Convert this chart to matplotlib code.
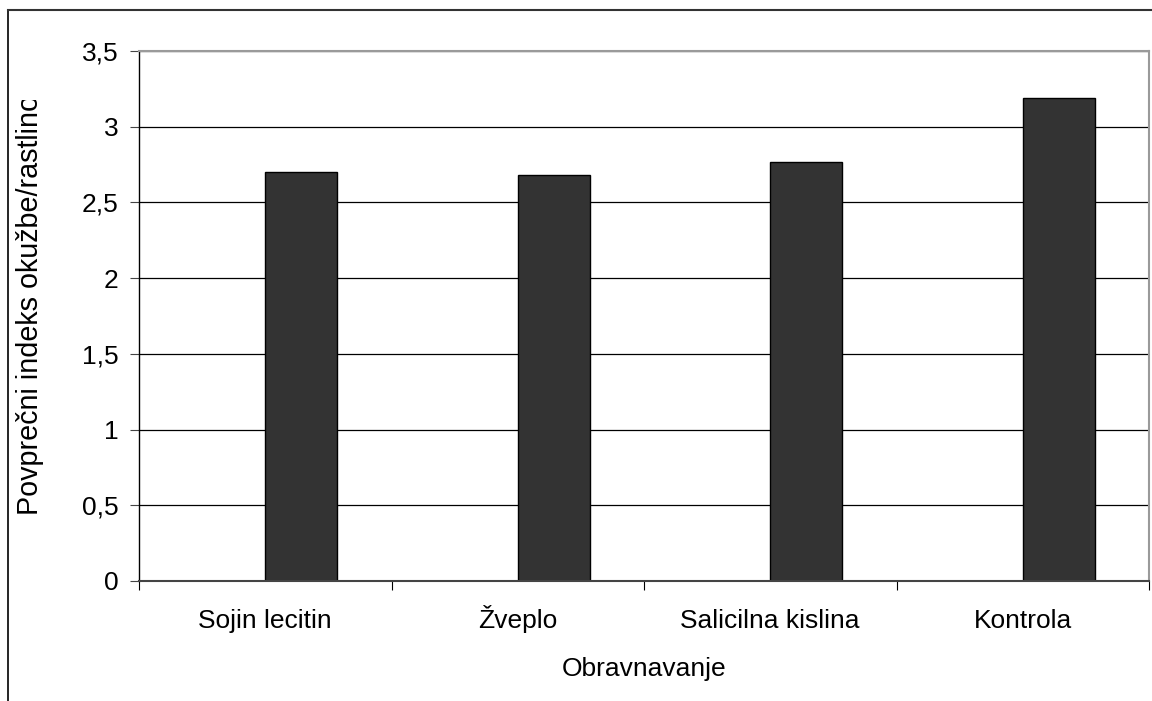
import matplotlib
matplotlib.use("Agg")
import matplotlib.pyplot as plt
from matplotlib.lines import Line2D
from matplotlib.patches import Rectangle

plt.rcParams['font.family'] = ['Liberation Sans', 'DejaVu Sans']

categories = ["Sojin lecitin", "Žveplo", "Salicilna kislina", "Kontrola"]
values = [2.70, 2.68, 2.765, 3.19]
y_ticks = [0, 0.5, 1, 1.5, 2, 2.5, 3, 3.5]
y_tick_labels = ["0", "0,5", "1", "1,5", "2", "2,5", "3", "3,5"]
y_label = "Povprečni indeks okužbe/rastlino"
x_label = "Obravnavanje"

FS = 19

W, H = 1152, 701
fig = plt.figure(figsize=(W / 100, H / 100), dpi=100)
ax = fig.add_axes([139 / W, (H - 581) / H, (1149 - 139) / W, (581 - 51) / H])

x = list(range(len(categories)))
ax.bar(x, values, width=0.285, align='edge', color='#333333',
       edgecolor='black', linewidth=1.0, zorder=3)

ax.set_xlim(-0.5, len(categories) - 0.5)
ax.set_ylim(0, 3.5)

# horizontal gridlines
ax.set_yticks(y_ticks)
ax.set_yticklabels(y_tick_labels, fontsize=FS)
ax.yaxis.grid(True, color='black', linewidth=0.9, zorder=1)
ax.tick_params(axis='y', direction='out', length=6.5, width=0.8, pad=8,
               colors='#444444', labelcolor='black')

# category boundaries as major ticks, names as minor ticks
ax.set_xticks([i - 0.5 for i in range(len(categories) + 1)])
ax.set_xticklabels([])
ax.set_xticks(x, minor=True)
ax.set_xticklabels(categories, minor=True, fontsize=FS)
ax.tick_params(axis='x', which='major', direction='out', length=6.5,
               width=0.8, color='black')
ax.tick_params(axis='x', which='minor', length=0, pad=34)
for lbl in ax.get_xticklabels(minor=True):
    lbl.set_verticalalignment('baseline')

for side, col, lw in [('top', '#9a9a9a', 1.5), ('right', '#9a9a9a', 1.5),
                      ('left', 'black', 1.0), ('bottom', '#444444', 1.5)]:
    ax.spines[side].set_color(col)
    ax.spines[side].set_linewidth(lw)
    ax.spines[side].set_zorder(4)

ax.set_xlabel(x_label, fontsize=FS, va='baseline')
ax.xaxis.set_label_coords(0.5, (581 - 676) / 530, transform=ax.transAxes)

# vertical axis title, cut off at the top like the source chart
yl = fig.text(30 / W, (H - 515) / H, y_label, rotation=90, fontsize=20.7,
              ha='center', va='bottom')
clip = Rectangle((0, (H - 515) / H - 0.03), 1, (515 - 100) / H + 0.03,
                 transform=fig.transFigure, visible=False)
fig.add_artist(clip)
yl.set_clip_path(clip)

# outer chart frame (left and top edges)
fig.add_artist(Line2D([8 / W, 8 / W], [0, (H - 10) / H],
                      transform=fig.transFigure, color='black', linewidth=1.2))
fig.add_artist(Line2D([8 / W, 1], [(H - 10) / H, (H - 10) / H],
                      transform=fig.transFigure, color='#333333', linewidth=1.5))

fig.savefig("out.png", dpi=100)
